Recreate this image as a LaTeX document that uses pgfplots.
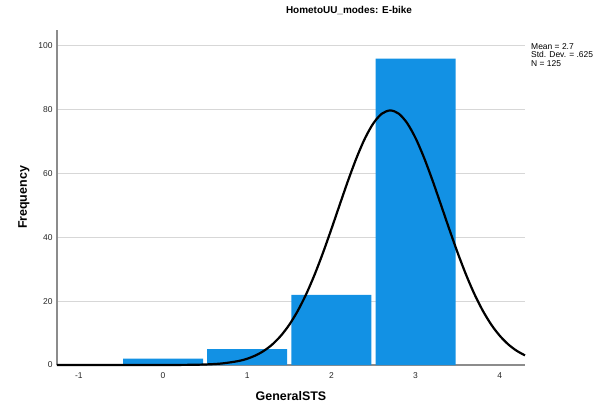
\documentclass[border=0pt]{standalone}
\usepackage{fontspec}
\setmainfont{Liberation Sans}
\usepackage{pgfplots}
\pgfplotsset{compat=1.18}
\definecolor{spssblue}{RGB}{18,145,228}
\definecolor{axgray}{RGB}{140,140,140}
\definecolor{gridgray}{RGB}{215,215,215}

\begin{document}
\begin{tikzpicture}
\begin{axis}[
  at={(0,0)}, anchor=south west,
  scale only axis, width=468bp, height=335bp,
  xmin=-1.26, xmax=4.3, ymin=0, ymax=105,
  axis x line=bottom, axis y line=left,
  axis line style={axgray, line width=1.1bp, -},
  xtick={-1,0,...,4}, ytick={0,20,...,100},
  major tick length=0pt,
  ymajorgrids, grid style={gridgray, line width=1bp},
  tick label style={font=\fontsize{8.5}{9}\selectfont, black!85},
  /pgf/number format/assume math mode=true,
  xticklabel style={yshift=-4bp},
  yticklabel style={xshift=-1bp},
  xlabel={GeneralSTS}, ylabel={Frequency},
  label style={font=\fontsize{12.5}{14}\selectfont\bfseries},
  xlabel style={yshift=-6bp},
  ylabel style={yshift=2bp},
  clip=false,
]
\addplot[ybar, bar width=0.95, fill=spssblue, draw=none] coordinates {
  (0,2) (1,5) (2,22) (3,96)
};
\addplot[black, line width=2.2bp, smooth] coordinates {
  (-1.26,0) (-0.5,0) (0.0,0.007) (0.3,0.05) (0.5,0.163) (0.7,0.477) (0.9,1.26)
  (1.0,1.97) (1.1,3.01) (1.2,4.48) (1.3,6.49) (1.4,9.18) (1.5,12.63)
  (1.6,16.96) (1.7,22.18) (1.8,28.29) (1.9,35.17) (2.0,42.62) (2.1,50.33)
  (2.2,57.94) (2.3,65.01) (2.4,71.11) (2.5,75.81) (2.6,78.78) (2.7,79.79)
  (2.8,78.78) (2.9,75.81) (3.0,71.11) (3.1,65.01) (3.2,57.94) (3.3,50.33)
  (3.4,42.62) (3.5,35.17) (3.6,28.29) (3.7,22.18) (3.8,16.96) (3.9,12.63)
  (4.0,9.18) (4.1,6.49) (4.2,4.48) (4.3,3.01)
};
\node[anchor=south, font=\fontsize{10}{11}\selectfont\bfseries]
  at (rel axis cs:0.624,1) [yshift=12bp] {HometoUU\_modes: E-bike};
\node[anchor=north west, align=left, inner sep=0pt,
      font=\fontsize{8.5}{8.5}\selectfont]
  at (rel axis cs:1,1) [xshift=6bp, yshift=-13bp]
  {Mean = 2.7\\Std. Dev. = .625\\N = 125};
\end{axis}
\path[use as bounding box] (-57bp,-41bp) rectangle (541bp,365bp);
\end{tikzpicture}
\end{document}
